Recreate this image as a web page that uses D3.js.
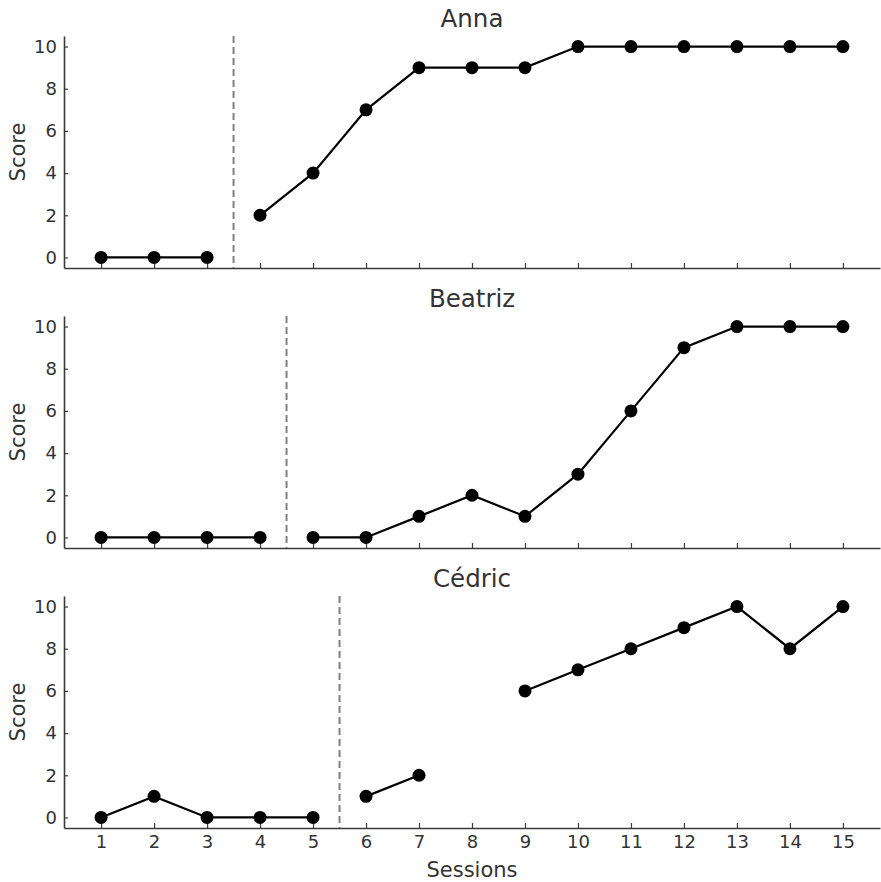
<!DOCTYPE html>
<html>
<head>
<meta charset="utf-8">
<script src="https://cdn.jsdelivr.net/npm/d3@7"></script>
<style>
  body { margin: 0; background: #fff; }
  text { font-family: "DejaVu Sans", sans-serif; fill: #333; }
</style>
</head>
<body>
<svg id="chart"></svg>
<script>
const sessions = [1, 2, 3, 4, 5, 6, 7, 8, 9, 10, 11, 12, 13, 14, 15];
const names = ["Anna", "Beatriz", "Cédric"];
const annaScores = [0, 0, 0, 2, 4, 7, 9, 9, 9, 10, 10, 10, 10, 10, 10];
const beatrizScores = [0, 0, 0, 0, 0, 0, 1, 2, 1, 3, 6, 9, 10, 10, 10];
const cedricScores = [0, 1, 0, 0, 0, 1, 2, null, 6, 7, 8, 9, 10, 8, 10];
const phaseChanges = [3.5, 4.5, 5.5];
const yTicks = [0, 2, 4, 6, 8, 10];

const allScores = [annaScores, beatrizScores, cedricScores];

const width = 881, height = 882;
const margin = { left: 64, right: 1 };
const panelTops = [36, 316, 596];
const panelHeight = 232;

const svg = d3.select("#chart")
    .attr("width", width)
    .attr("height", height);

const x = d3.scaleLinear()
    .domain([0.3, 15.7])
    .range([margin.left, width - margin.right]);

names.forEach((name, i) => {
    const top = panelTops[i];
    const y = d3.scaleLinear()
        .domain([-0.5, 10.5])
        .range([top + panelHeight, top]);

    const g = svg.append("g");

    // y axis
    const yAxis = g.append("g")
        .attr("transform", `translate(${margin.left},0)`)
        .call(d3.axisLeft(y).tickValues(yTicks).tickSize(-4).tickPadding(7).tickSizeOuter(0));

    // x axis, labels only on the bottom panel
    const xAxis = g.append("g")
        .attr("transform", `translate(0,${top + panelHeight})`)
        .call(d3.axisBottom(x).tickValues(sessions).tickSize(-5).tickPadding(7).tickSizeOuter(0)
            .tickFormat(i === names.length - 1 ? d3.format("d") : () => ""));

    [yAxis, xAxis].forEach(a => {
        a.select(".domain").attr("stroke", "#3a3a3a").attr("stroke-width", 1.6);
        a.selectAll(".tick line").attr("stroke", "#3a3a3a").attr("stroke-width", 1.2);
        a.selectAll(".tick text").attr("font-size", 18).attr("fill", "#333");
    });

    // title
    g.append("text")
        .attr("x", (x.range()[0] + x.range()[1]) / 2)
        .attr("y", top - 9)
        .attr("text-anchor", "middle")
        .attr("font-size", 24.5)
        .text(name);

    // y label
    g.append("text")
        .attr("transform", `translate(25,${top + panelHeight / 2}) rotate(-90)`)
        .attr("text-anchor", "middle")
        .attr("font-size", 21)
        .text("Score");

    // phase change line
    g.append("line")
        .attr("x1", x(phaseChanges[i]))
        .attr("x2", x(phaseChanges[i]))
        .attr("y1", top)
        .attr("y2", top + panelHeight)
        .attr("stroke", "#808080")
        .attr("stroke-width", 2)
        .attr("stroke-dasharray", "7,4");

    const points = sessions.map((s, j) => ({ s: s, v: allScores[i][j] }));
    const baseline = points.filter(d => d.s < phaseChanges[i]);
    const treatment = points.filter(d => d.s > phaseChanges[i]);

    const line = d3.line()
        .defined(d => d.v !== null)
        .x(d => x(d.s))
        .y(d => y(d.v));

    [baseline, treatment].forEach(seg => {
        g.append("path")
            .datum(seg)
            .attr("fill", "none")
            .attr("stroke", "#000")
            .attr("stroke-width", 2.2)
            .attr("d", line);
    });

    g.selectAll(".dot")
        .data(points.filter(d => d.v !== null))
        .join("circle")
        .attr("class", "dot")
        .attr("cx", d => x(d.s))
        .attr("cy", d => y(d.v))
        .attr("r", 6.5)
        .attr("fill", "#000");
});

svg.append("text")
    .attr("x", (x.range()[0] + x.range()[1]) / 2)
    .attr("y", 877)
    .attr("text-anchor", "middle")
    .attr("font-size", 21)
    .text("Sessions");
</script>
</body>
</html>
